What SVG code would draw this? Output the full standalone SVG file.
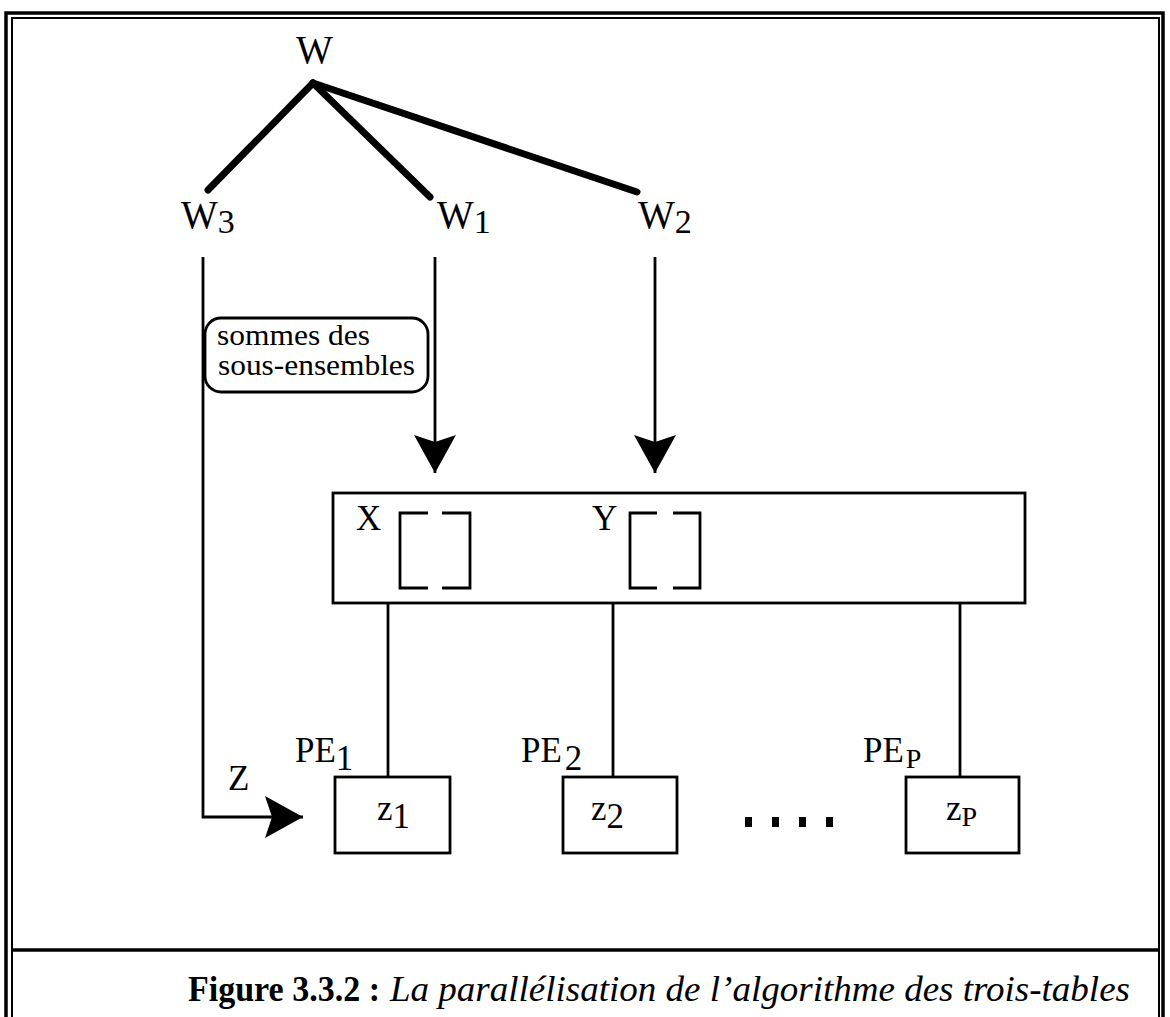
<svg xmlns="http://www.w3.org/2000/svg" width="1170" height="1017" viewBox="0 0 1170 1017">
<style>
  text { font-family: "Liberation Serif", "Times New Roman", serif; fill: #000; }
  .lbl { font-size: 39px; }
  .pe { font-size: 35px; }
  .box { fill: #fff; stroke: #000; stroke-width: 2.8; }
  .thin { stroke: #000; stroke-width: 2.8; fill: none; }
  .thick { stroke: #000; stroke-width: 7; fill: none; stroke-linecap: round; }
  .frame { fill: none; stroke: #000; }
  .dot { fill: #000; }
</style>
<defs>
  <marker id="arrow" viewBox="0 0 38 42" refX="38" refY="21" markerWidth="38" markerHeight="42" orient="auto" markerUnits="userSpaceOnUse">
    <path d="M0,0 L38,21 L0,42 L7,21 Z" fill="#000"/>
  </marker>
</defs>
<rect width="1170" height="1017" fill="#fff"/>

<g id="frame">
  <rect class="frame" x="6" y="13" width="1157" height="1020" stroke-width="3.5"/>
  <rect class="frame" x="12" y="18" width="1147" height="1010" stroke-width="2"/>
  <line class="frame" x1="12" y1="950" x2="1159" y2="950" stroke-width="3.5"/>
</g>

<g id="connectors">
  <line class="thick" x1="313" y1="83" x2="208" y2="190"/>
  <line class="thick" x1="313" y1="83" x2="430" y2="197"/>
  <line class="thick" x1="313" y1="83" x2="637" y2="192"/>
  <line class="thin" x1="435" y1="257" x2="435" y2="473" marker-end="url(#arrow)"/>
  <line class="thin" x1="655" y1="257" x2="655" y2="473" marker-end="url(#arrow)"/>
  <polyline class="thin" points="203,257 203,817 303,817" marker-end="url(#arrow)"/>
  <line class="thin" x1="388" y1="603" x2="388" y2="777"/>
  <line class="thin" x1="613" y1="603" x2="613" y2="777"/>
  <line class="thin" x1="960" y1="603" x2="960" y2="777"/>
</g>

<g id="node-W">
  <text class="lbl" x="296" y="63">W</text>
</g>
<g id="node-W3">
  <text class="lbl" x="181" y="228">W<tspan dy="5" font-size="34">3</tspan></text>
</g>
<g id="node-W1">
  <text class="lbl" x="437" y="228">W<tspan dy="5" font-size="34">1</tspan></text>
</g>
<g id="node-W2">
  <text class="lbl" x="638" y="228">W<tspan dy="5" font-size="34">2</tspan></text>
</g>

<g id="label-sommes">
  <rect class="box" x="205" y="318" width="223" height="74" rx="16" ry="16"/>
  <text x="217" y="345" font-size="30" textLength="153" lengthAdjust="spacingAndGlyphs">sommes des</text>
  <text x="218" y="375" font-size="30" textLength="197" lengthAdjust="spacingAndGlyphs">sous-ensembles</text>
</g>

<g id="node-memory">
  <rect class="box" x="333" y="493" width="692" height="110"/>
  <text class="pe" x="356" y="530">X</text>
  <path class="thin" stroke-width="3" d="M428,513 H400 V588 H428 M442,513 H470 V588 H442"/>
  <text class="pe" x="592" y="530">Y</text>
  <path class="thin" stroke-width="3" d="M657,513 H630 V588 H657 M673,513 H700 V588 H673"/>
</g>

<g id="node-PE1">
  <text class="pe" x="295" y="762">PE<tspan dy="8">1</tspan></text>
  <rect class="box" x="335" y="777" width="115" height="76"/>
  <text class="pe" x="377" y="820">z<tspan dy="8">1</tspan></text>
</g>
<g id="node-PE2">
  <text class="pe" x="521" y="762">PE<tspan dx="3" dy="8">2</tspan></text>
  <rect class="box" x="563" y="777" width="114" height="76"/>
  <text class="pe" x="591" y="820">z<tspan dy="8">2</tspan></text>
</g>
<g id="node-PEP">
  <text class="pe" x="863" y="762">PE<tspan dx="2" dy="6" font-size="28">P</tspan></text>
  <rect class="box" x="906" y="777" width="113" height="76"/>
  <text class="pe" x="946" y="820">z<tspan dy="6" font-size="28">P</tspan></text>
</g>

<g id="label-Z">
  <text class="pe" x="228" y="790">Z</text>
</g>

<g id="ellipsis">
  <rect class="dot" x="745" y="817" width="7" height="10"/>
  <rect class="dot" x="772" y="817" width="7" height="10"/>
  <rect class="dot" x="799" y="817" width="7" height="10"/>
  <rect class="dot" x="826" y="817" width="7" height="10"/>
</g>

<g id="caption">
  <text x="188" y="1001" font-size="35" font-weight="bold" textLength="192" lengthAdjust="spacingAndGlyphs">Figure 3.3.2 :</text>
  <text x="390" y="1001" font-size="36" font-style="italic" textLength="740" lengthAdjust="spacingAndGlyphs">La parallélisation de l’algorithme des trois-tables</text>
</g>
</svg>
